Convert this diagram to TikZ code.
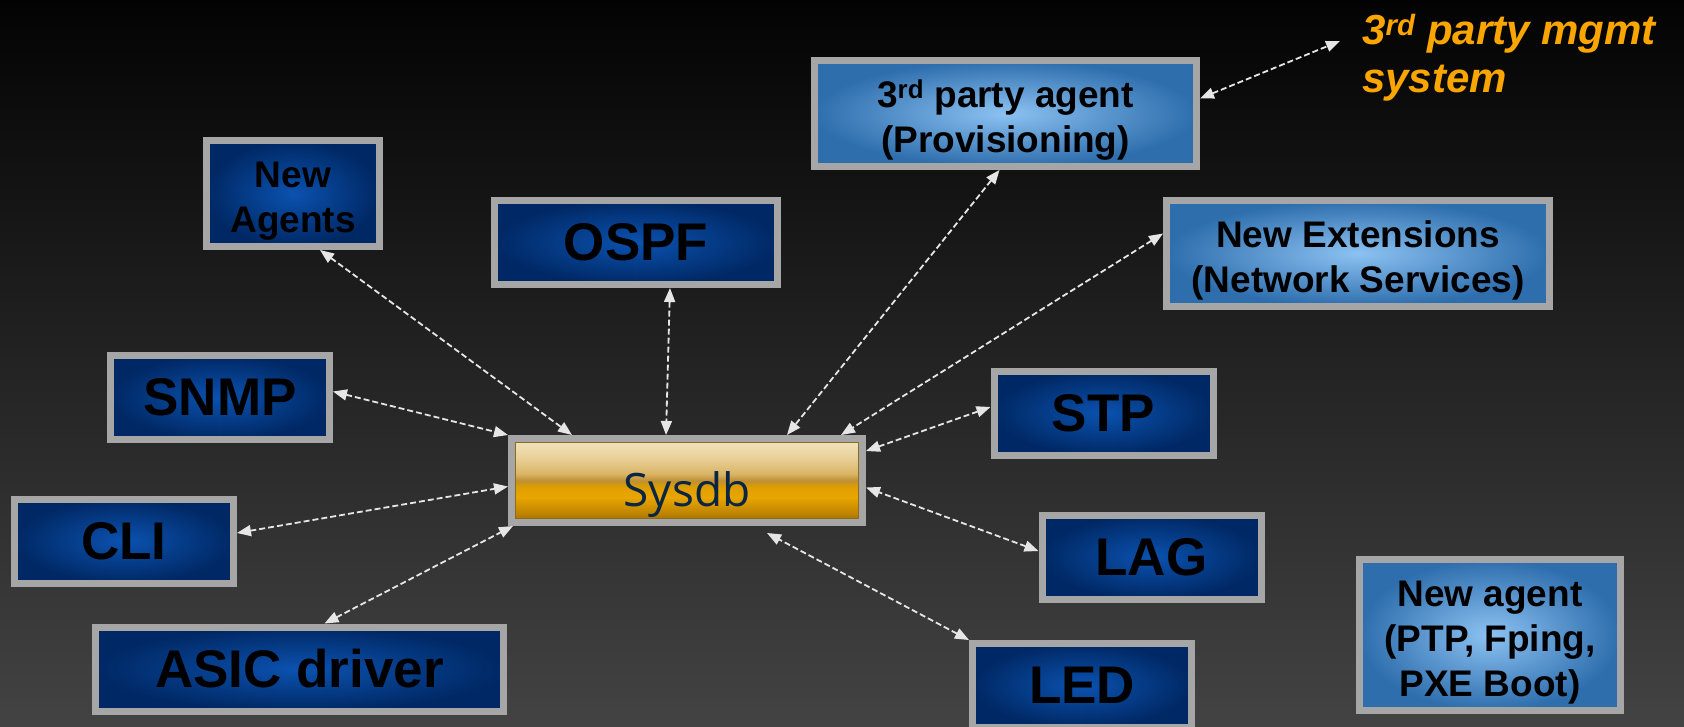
\documentclass[tikz,border=0pt]{standalone}
\usepackage{fontspec}
\setmainfont{Liberation Sans}
\newfontfamily\segoe{Open Sans}
\usetikzlibrary{arrows.meta, calc}
\definecolor{bgtop}{HTML}{030303}
\definecolor{bgbot}{HTML}{434343}
\definecolor{boxgray}{HTML}{A6A6A6}
\definecolor{navyin}{HTML}{0B52B0}
\definecolor{navyout}{HTML}{002864}
\definecolor{skyin}{HTML}{8CC2F2}
\definecolor{skyout}{HTML}{2E6EAD}
\definecolor{linkgray}{HTML}{E6E6E6}
\definecolor{mgmtorange}{HTML}{FAA500}
\definecolor{sysdbtext}{HTML}{0B2545}
\definecolor{goldedge}{HTML}{8C6A1E}
\definecolor{goldlow}{HTML}{9A6800}
\definecolor{goldmid}{HTML}{BC8200}
\definecolor{goldhi}{HTML}{E9A600}
\definecolor{goldband}{HTML}{BE9032}
\definecolor{tanmid}{HTML}{DAB466}
\definecolor{tanhi}{HTML}{E8CF95}
\definecolor{tantop}{HTML}{F3E6C4}
\pgfdeclareverticalshading{sysdbglow}{100bp}{color(0bp)=(goldlow); color(25bp)=(goldlow); color(30bp)=(goldmid); color(40bp)=(goldhi); color(46bp)=(goldhi!88!goldlow); color(50bp)=(goldband); color(54bp)=(tanmid); color(63bp)=(tanhi); color(75bp)=(tantop); color(100bp)=(tantop)}
\newcommand{\padtop}{\rule{0pt}{41pt}}

\begin{document}
\begin{tikzpicture}[x=1pt, y=-1pt,
    box/.style={draw=boxgray, line width=7pt, inner sep=0pt, align=center, minimum width=219pt, minimum height=84pt},
    darkbox/.style={box, inner color=navyin, outer color=navyout, font=\bfseries\fontsize{53}{60}\selectfont},
    lightbox/.style={box, inner color=skyin, outer color=skyout, font=\bfseries\fontsize{37}{45}\selectfont},
    smalltext/.style={font=\bfseries\fontsize{37}{45}\selectfont},
    sysbox/.style={box, shading=sysdbglow, text=sysdbtext, font=\segoe\fontsize{46}{50}\selectfont, text height=51pt, text depth=0pt, minimum width=351pt},
    link/.style={draw=linkgray, line width=1.8pt, dash pattern=on 6pt off 3pt, >={Triangle[length=14pt, width=11pt]}, <->}]
                        \useasboundingbox (0,0) rectangle (1684,726);
                        \clip (0,0) rectangle (1684,726);
                        \fill[top color=bgtop, bottom color=bgbot] (0,0) rectangle (1684,726);

                        \node[sysbox] (sysdb) at (687,480.5) {Sysdb};
                        \draw[goldedge, line width=1.2pt] ([shift={(7.5pt,-7.5pt)}]sysdb.north west) rectangle ([shift={(-7.5pt,7.5pt)}]sysdb.south east);

                        \node[lightbox, minimum width=382pt, minimum height=106pt] (agent3) at (1005.5,113.5) {\padtop 3\textsuperscript{rd} party agent\\(Provisioning)};
                        \node[darkbox, smalltext, minimum width=173pt, minimum height=106pt] (newag) at (293,193.5) {\padtop New\\Agents};
                        \node[darkbox, minimum width=283pt] (ospf) at (636,242.5) {OSPF};
                        \node[lightbox, minimum width=383pt, minimum height=106pt] (newext) at (1358,253.5) {\padtop New Extensions\\(Network Services)};
                        \node[darkbox] (snmp) at (220,397.5) {SNMP};
                        \node[darkbox] (stp) at (1103.5,413) {STP};
                        \node[darkbox] (cli) at (124,541) {CLI};
                        \node[darkbox] (lag) at (1151.5,557) {LAG};
                        \node[darkbox, minimum width=408pt] (asic) at (299.5,669) {ASIC driver};
                        \node[darkbox] (led) at (1082,685.5) {LED};
                        \node[lightbox, minimum width=261pt, minimum height=151pt] (newptp) at (1490,635) {\padtop New agent\\(PTP, Fping,\\PXE Boot)};

                        \node[anchor=west, align=left, text=mgmtorange, inner sep=0pt, font=\bfseries\itshape\fontsize{42}{48}\selectfont] (mgmt) at (1362,58) {3\textsuperscript{rd} party mgmt\\system};
                        \coordinate (mgmtend) at (1340,41);

                        \draw
                        ([yshift=15pt]agent3.east) edge[link] (mgmtend)
                        ([xshift=27pt]newag.south) edge[link] ([xshift=64pt]sysdb.north west)
                        ([xshift=34pt]ospf.south) edge[link] ([xshift=158pt]sysdb.north west)
                        ([xshift=-6pt]agent3.south) edge[link] ([xshift=279pt]sysdb.north west)
                        ([yshift=20pt]newext.west) edge[link] ([xshift=333pt]sysdb.north west)
                        ([yshift=6pt]snmp.east) edge[link] (sysdb.north west)
                        ([yshift=6pt]stp.west) edge[link] ([yshift=-16pt]sysdb.north east)
                        ([yshift=8pt]cli.east) edge[link] ([yshift=-6pt]sysdb.west)
                        ([yshift=6pt]lag.west) edge[link] ([yshift=-7pt]sysdb.east)
                        ([xshift=25pt]asic.north) edge[link] ([xshift=5pt]sysdb.south west)
                        (led.north west) edge[link] ([shift={(259pt,-7pt)}]sysdb.south west);
                    \end{tikzpicture}
\end{document}
